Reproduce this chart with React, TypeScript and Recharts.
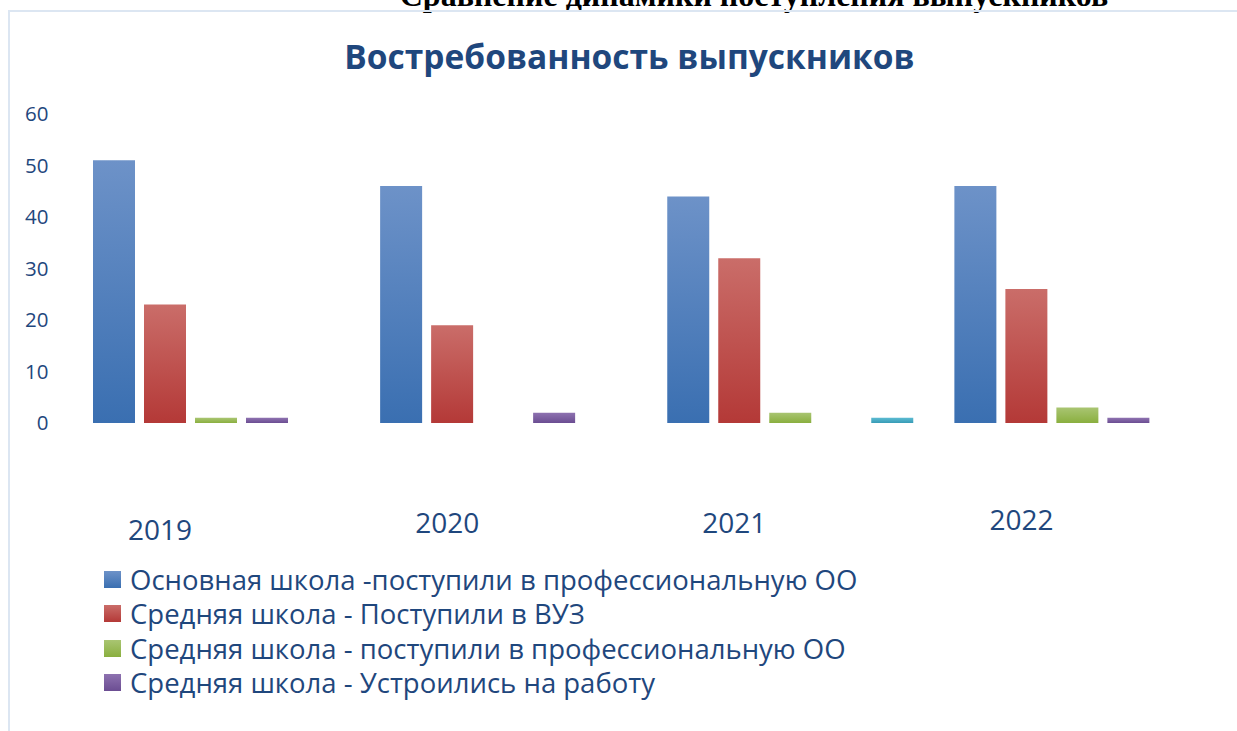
import { Bar, BarChart, XAxis, YAxis } from "recharts";

// years on the category axis
const years = ["2019", "2020", "2021", "2022"];

// series values
const basicProf = [51, 46, 44, 46];
const secondaryUni = [23, 19, 32, 26];
const secondaryProf = [1, 0, 2, 3];
const secondaryJob = [1, 2, 0, 1];
const extraSeries = [0, 0, 1, 0]; // cyan bar, not in legend

const yTicks = [0, 10, 20, 30, 40, 50, 60];

const seriesNames = [
  "Основная школа -поступили в профессиональную ОО",
  "Средняя школа - Поступили в ВУЗ",
  "Средняя школа - поступили в профессиональную ОО",
  "Средняя школа - Устроились на работу",
];

const data = years.map((y, i) => ({
  year: y,
  basicProf: basicProf[i],
  secondaryUni: secondaryUni[i],
  secondaryProf: secondaryProf[i],
  secondaryJob: secondaryJob[i],
  extra: extraSeries[i],
}));

const TEXT = "#1f477d";
const FONT = "'Open Sans', sans-serif";

const grads = [
  { id: "gBlue", top: "#6d92c8", bottom: "#3a6fb1", key: "basicProf" },
  { id: "gRed", top: "#ca6d69", bottom: "#b43937", key: "secondaryUni" },
  { id: "gGreen", top: "#a9c572", bottom: "#8aaf3f", key: "secondaryProf" },
  { id: "gPurple", top: "#8e72b0", bottom: "#6b4d92", key: "secondaryJob" },
  { id: "gCyan", top: "#5cbbd2", bottom: "#379bb6", key: "extra" },
];

// the year labels sit left of the groups and slightly staggered in the source
const tickShift = [8, 1, 1, -2];

function YearTick(props: any) {
  const { x, y, payload, index } = props;
  return (
    <text
      x={x - 56}
      y={y + 101 + (tickShift[index] ?? 0)}
      textAnchor="middle"
      fill={TEXT}
      fontSize={28}
      fontFamily={FONT}
    >
      {payload.value}
    </text>
  );
}

export default function App() {
  return (
    <div style={{ position: "absolute", left: 0, top: 0, width: 1237, height: 731, background: "#fff", overflow: "hidden", fontFamily: FONT }}>
      {/* heading above the frame, cut off by the page edge */}
      <div
        style={{
          position: "absolute",
          left: 354,
          top: -23,
          width: 800,
          textAlign: "center",
          fontFamily: "'Liberation Serif', serif",
          fontWeight: 700,
          fontSize: 32,
          color: "#000",
          whiteSpace: "nowrap",
        }}
      >
        Сравнение динамики поступления выпускников
      </div>
      {/* frame lines */}
      <div style={{ position: "absolute", left: 8, top: 10, width: 1229, height: 721, borderLeft: "2px solid #dce6f2", borderTop: "2px solid #dce6f2" }} />

      <div style={{ position: "absolute", left: 0, top: 33, width: 1237, textAlign: "center", fontSize: 33.5, fontWeight: 700, color: "#1f477d" }}>
        <span style={{ position: "relative", left: 11 }}>Востребованность выпускников</span>
      </div>

      <div style={{ position: "absolute", left: 0, top: 0 }}>
        <BarChart
          width={1237}
          height={731}
          data={data}
          margin={{ top: 114, right: 16, bottom: 0, left: 0 }}
          barCategoryGap={20.5}
          barGap={9}
        >
          <defs>
            {grads.map((g) => (
              <linearGradient key={g.id} id={g.id} x1="0" y1="0" x2="0" y2="1">
                <stop offset="0%" stopColor={g.top} />
                <stop offset="100%" stopColor={g.bottom} />
              </linearGradient>
            ))}
          </defs>
          <XAxis dataKey="year" axisLine={false} tickLine={false} height={308} tick={<YearTick />} interval={0} />
          <YAxis
            domain={[0, 60]}
            ticks={yTicks}
            axisLine={false}
            tickLine={false}
            width={72.5}
            tick={{ fill: TEXT, fontSize: 20.5, fontFamily: FONT, dx: -16 }}
          />
          {grads.map((g) => (
            <Bar key={g.key} dataKey={g.key} fill={`url(#${g.id})`} isAnimationActive={false} />
          ))}
        </BarChart>
      </div>

      {/* legend */}
      <div style={{ position: "absolute", left: 104, top: 562 }}>
        {seriesNames.map((name, i) => (
          <div key={name} style={{ display: "flex", alignItems: "center", height: 34.5, fontSize: 27.5, color: TEXT, whiteSpace: "nowrap" }}>
            <span
              style={{
                display: "inline-block",
                width: 17,
                height: 17,
                marginRight: 9,
                background: `linear-gradient(${grads[i].top}, ${grads[i].bottom})`,
              }}
            />
            {name}
          </div>
        ))}
      </div>
    </div>
  );
}
